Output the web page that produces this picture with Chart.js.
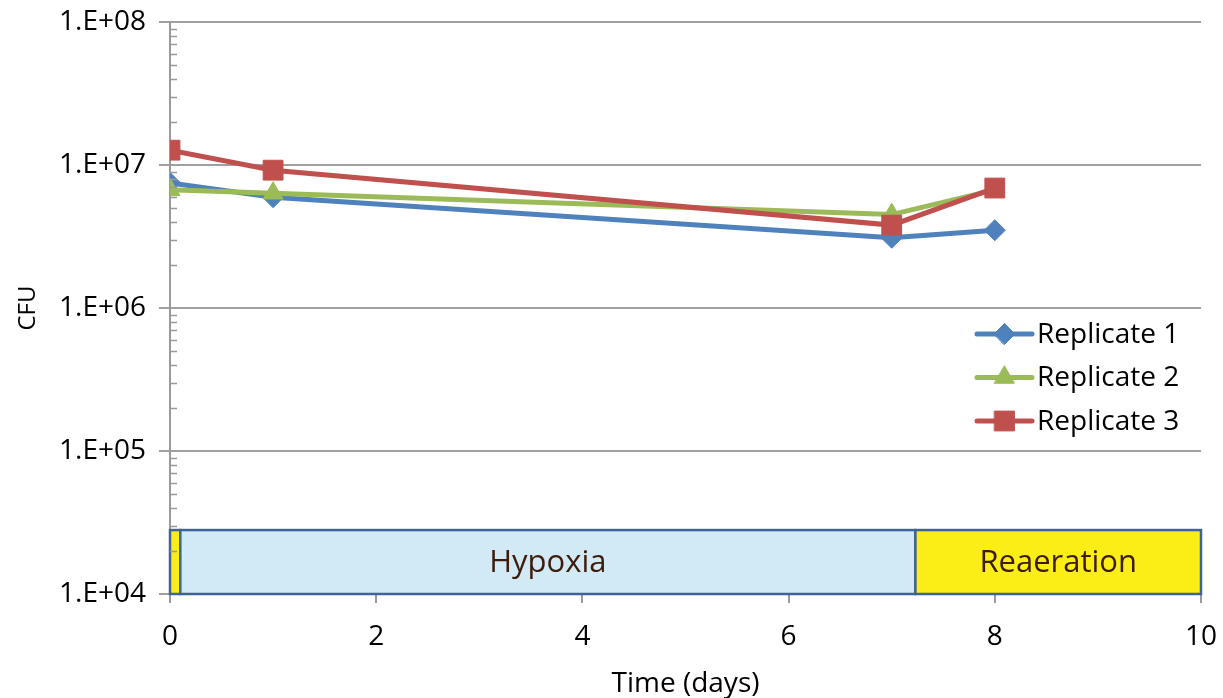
<!DOCTYPE html>
<html>
<head>
<meta charset="utf-8">
<script src="https://cdn.jsdelivr.net/npm/chart.js@4/dist/chart.umd.min.js"></script>
<style>
  html, body { margin: 0; padding: 0; background: #fff; }
  #wrap { width: 1223px; height: 698px; }
</style>
</head>
<body>
<div id="wrap"><canvas id="c" width="1223" height="698"></canvas></div>
<script>
// Sampling days and colony counts for each replicate
const days = [0, 1, 7, 8];
const replicate1 = [7.5e6, 5.95e6, 3.1e6, 3.5e6];
const replicate2 = [6.7e6, 6.35e6, 4.5e6, 6.7e6];
const replicate3 = [1.27e7, 9.2e6, 3.8e6, 6.9e6];
const seriesNames = ['Replicate 1', 'Replicate 2', 'Replicate 3'];

// Axis ticks
const yTickValues = [1e4, 1e5, 1e6, 1e7, 1e8];
const yTickLabels = ['1.E+04', '1.E+05', '1.E+06', '1.E+07', '1.E+08'];

// Oxygen condition phases (days) shown as a strip along the bottom
const phaseStart = [0, 0.1, 7.23];
const phaseEnd = [0.1, 7.23, 10];
const phaseLabels = ['', 'Hypoxia', 'Reaeration'];
const phaseColors = ['#fbee16', '#d1eaf5', '#fbee16'];
const phaseTop = 2.8e4;

const FONT = '"Open Sans", "Liberation Sans", sans-serif';
const colors = ['#4f81bd', '#9bbb59', '#c0504d'];
const styles = ['rectRot', 'triangle', 'rect'];
const radii = [10.5, 11.5, 14];

function pts(vals) { return days.map((d, i) => ({ x: d, y: vals[i] })); }

const datasets = [replicate1, replicate2, replicate3].map((vals, i) => ({
  label: seriesNames[i],
  data: pts(vals),
  borderColor: colors[i],
  backgroundColor: colors[i],
  borderWidth: 5,
  pointStyle: styles[i],
  pointRadius: radii[i],
  pointBorderWidth: 1,
  pointBorderColor: colors[i],
  pointBackgroundColor: colors[i],
  tension: 0,
  order: 3 - i
}));

// Phase strip behind the series
const phasePlugin = {
  id: 'phases',
  beforeDatasetsDraw(chart) {
    const { ctx, scales: { x, y } } = chart;
    const yTop = y.getPixelForValue(phaseTop);
    const yBot = y.getPixelForValue(1e4);
    ctx.save();
    phaseStart.forEach((s, i) => {
      const x0 = x.getPixelForValue(s);
      const x1 = x.getPixelForValue(phaseEnd[i]);
      ctx.fillStyle = phaseColors[i];
      ctx.fillRect(x0, yTop, x1 - x0, yBot - yTop);
      ctx.strokeStyle = '#3f6397';
      ctx.lineWidth = 2.5;
      ctx.strokeRect(x0, yTop, x1 - x0, yBot - yTop);
      if (phaseLabels[i]) {
        ctx.fillStyle = '#3d1c0c';
        ctx.font = '31px ' + FONT;
        ctx.textAlign = 'center';
        ctx.textBaseline = 'middle';
        ctx.fillText(phaseLabels[i], (x0 + x1) / 2, (yTop + yBot) / 2 + 1);
      }
    });
    ctx.restore();
  }
};

// Minor log ticks inside the vertical axis
const minorTickPlugin = {
  id: 'minorTicks',
  afterDraw(chart) {
    const { ctx, scales: { y }, chartArea } = chart;
    ctx.save();
    ctx.strokeStyle = '#9a9a9a';
    ctx.lineWidth = 1.5;
    for (let e = 4; e < 8; e++) {
      for (let m = 2; m <= 9; m++) {
        const py = Math.round(y.getPixelForValue(m * Math.pow(10, e))) + 0.5;
        ctx.beginPath();
        ctx.moveTo(chartArea.left, py);
        ctx.lineTo(chartArea.left + 7, py);
        ctx.stroke();
      }
    }
    ctx.restore();
  }
};

// Legend placed inside the plot on the right
const legendPlugin = {
  id: 'insideLegend',
  afterDraw(chart) {
    const { ctx } = chart;
    const x0 = 977, x1 = 1032, yStart = 334, step = 43.5;
    ctx.save();
    chart.data.datasets.forEach((ds, i) => {
      const yy = yStart + i * step;
      ctx.strokeStyle = ds.borderColor;
      ctx.lineWidth = 5;
      ctx.lineCap = 'round';
      ctx.beginPath();
      ctx.moveTo(x0, yy);
      ctx.lineTo(x1, yy);
      ctx.stroke();
      ctx.fillStyle = ds.pointBackgroundColor;
      ctx.strokeStyle = ds.pointBorderColor;
      ctx.lineWidth = 1;
      Chart.helpers.drawPoint(ctx, { pointStyle: ds.pointStyle, radius: ds.pointRadius, borderWidth: 1, rotation: 0 }, (x0 + x1) / 2, yy);
      ctx.fillStyle = '#000';
      ctx.font = '28px ' + FONT;
      ctx.textAlign = 'left';
      ctx.textBaseline = 'middle';
      ctx.fillText(ds.label, 1037, yy + 1);
    });
    ctx.restore();
  }
};

new Chart(document.getElementById('c'), {
  type: 'line',
  data: { datasets },
  plugins: [phasePlugin, minorTickPlugin, legendPlugin],
  options: {
    responsive: false,
    animation: false,
    layout: { padding: { top: 22, right: 22, left: 0, bottom: 0 } },
    plugins: { legend: { display: false }, tooltip: { enabled: false } },
    scales: {
      x: {
        type: 'linear',
        min: 0,
        max: 10,
        afterFit(scale) {
          scale.height = 104;
          scale.paddingLeft = 0;
          scale.paddingRight = 0;
        },
        ticks: {
          stepSize: 2,
          color: '#000',
          padding: 17,
          font: { family: FONT, size: 28 }
        },
        grid: { drawOnChartArea: false, tickLength: 9, color: '#9a9a9a', lineWidth: 2 },
        border: { color: '#9a9a9a', width: 2 },
        title: {
          display: true,
          text: 'Time (days)',
          color: '#000',
          font: { family: FONT, size: 28 },
          padding: { top: 0, bottom: -3 }
        }
      },
      y: {
        type: 'logarithmic',
        min: 1e4,
        max: 1e8,
        afterFit(scale) {
          scale.width = 170;
          scale.paddingTop = 0;
          scale.paddingBottom = 0;
        },
        afterBuildTicks(scale) { scale.ticks = yTickValues.map(v => ({ value: v, major: true })); },
        ticks: {
          color: '#000',
          padding: 13,
          font: { family: FONT, size: 28 },
          callback: (v) => yTickLabels[yTickValues.indexOf(v)]
        },
        grid: { tickLength: 11, color: '#a0a0a0', lineWidth: 2 },
        border: { color: '#9a9a9a', width: 2 },
        title: {
          display: true,
          text: 'CFU',
          color: '#000',
          font: { family: FONT, size: 24 },
          padding: { top: 14, bottom: 0 }
        }
      }
    }
  }
});
</script>
</body>
</html>
